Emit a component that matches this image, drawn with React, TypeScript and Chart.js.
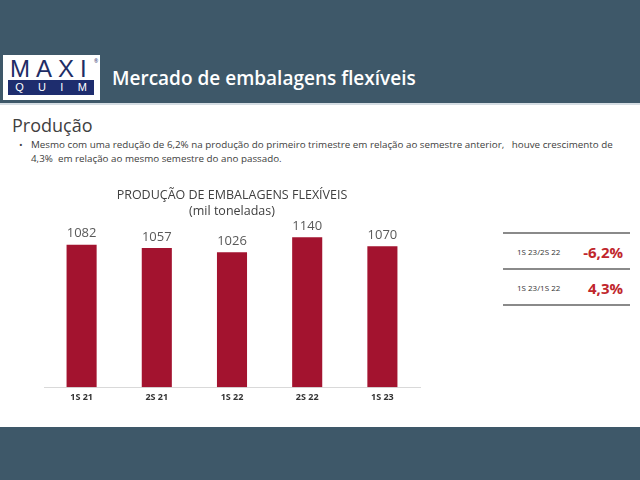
import React, { useEffect, useRef } from "react";
import { Chart, registerables } from "chart.js";

Chart.register(...registerables);

const categories = ["1S 21", "2S 21", "1S 22", "2S 22", "1S 23"];
const production = [1082, 1057, 1026, 1140, 1070];
const chartTitle = ["PRODUÇÃO DE EMBALAGENS FLEXÍVEIS", "(mil toneladas)"];
const compareLabels = ["1S 23/2S 22", "1S 23/1S 22"];
const compareValues = ["-6,2%", "4,3%"];

const BAR = "#a3132f";
const SLATE = "#3e5869";
const FONT = "'Open Sans', Lato, sans-serif";

const valueLabels = {
  id: "valueLabels",
  afterDatasetsDraw(chart: any) {
    const ctx = chart.ctx;
    const meta = chart.getDatasetMeta(0);
    const data = chart.data.datasets[0].data;
    ctx.save();
    ctx.fillStyle = "#595959";
    ctx.font = "13px " + FONT;
    ctx.textAlign = "center";
    ctx.textBaseline = "middle";
    meta.data.forEach((bar: any, i: number) => {
      ctx.fillText(String(data[i]), bar.x, bar.y - 11);
    });
    ctx.restore();
  },
};

export default function App() {
  const ref = useRef<HTMLCanvasElement>(null);
  useEffect(() => {
    if (!ref.current) return;
    const chart = new Chart(ref.current, {
      type: "bar",
      data: {
        labels: categories,
        datasets: [
          {
            data: production,
            backgroundColor: BAR,
            barPercentage: 0.4,
            categoryPercentage: 1,
          },
        ],
      },
      options: {
        animation: false,
        responsive: false,
        maintainAspectRatio: false,
        layout: { padding: { left: 24, right: 24, bottom: 4, top: 0 } },
        plugins: {
          legend: { display: false },
          tooltip: { enabled: false },
          title: {
            display: true,
            text: chartTitle,
            color: "#404040",
            font: { family: FONT, size: 12.5, weight: "normal", lineHeight: 1.25 },
            padding: { top: 8, bottom: 10 },
          },
        },
        scales: {
          x: {
            grid: { display: false, drawTicks: false },
            border: { display: true, color: "#d9d9d9", width: 1 },
            ticks: {
              color: "#333333",
              padding: 5,
              font: { family: FONT, size: 9, weight: "bold", lineHeight: 1.2 },
            },
          },
          y: {
            display: false,
            min: 0,
            max: 1200,
          },
        },
      },
      plugins: [valueLabels],
    });
    return () => chart.destroy();
  }, []);

  return (
    <div
      style={{
        position: "fixed",
        left: 0,
        top: 0,
        width: 640,
        height: 480,
        background: "#ffffff",
        fontFamily: FONT,
        overflow: "hidden",
      }}
    >
      <div style={{ position: "absolute", left: 0, top: 0, width: 640, height: 103, background: SLATE }} />
      <div style={{ position: "absolute", left: 0, top: 103, width: 640, height: 2, background: "#d5dde3" }} />
      <div style={{ position: "absolute", left: 0, top: 427, width: 640, height: 53, background: SLATE }} />

      {/* logo */}
      <div style={{ position: "absolute", left: 3, top: 55, width: 97, height: 45, background: "#ffffff" }}>
        <div
          style={{
            position: "absolute",
            left: 7,
            top: 2,
            fontFamily: "'Liberation Sans', Arial, sans-serif",
            fontSize: 24,
            lineHeight: "24px",
            letterSpacing: 6,
            color: "#1e2d66",
          }}
        >
          MAXI
        </div>
        <div style={{ position: "absolute", left: 91, top: 3, fontSize: 5, color: "#1e2d66" }}>®</div>
        <div
          style={{
            position: "absolute",
            left: 5,
            top: 25,
            width: 86,
            height: 15,
            background: "#1e2d6e",
            color: "#ffffff",
            fontFamily: "'Liberation Sans', Arial, sans-serif",
            fontSize: 11,
            lineHeight: "15px",
            display: "flex",
            justifyContent: "space-around",
          }}
        >
          <span>Q</span>
          <span>U</span>
          <span>I</span>
          <span>M</span>
        </div>
      </div>

      <div
        style={{
          position: "absolute",
          left: 112,
          top: 64,
          fontSize: 19,
          lineHeight: "28px",
          fontWeight: 600,
          color: "#ffffff",
          whiteSpace: "nowrap",
        }}
      >
        Mercado de embalagens flexíveis
      </div>

      <div
        style={{
          position: "absolute",
          left: 12,
          top: 112,
          fontSize: 18,
          lineHeight: "26px",
          color: "#404040",
          whiteSpace: "nowrap",
        }}
      >
        Produção
      </div>

      <div style={{ position: "absolute", left: 19, top: 138, fontSize: 9.8, lineHeight: "14px", color: "#404040" }}>•</div>
      <div
        style={{
          position: "absolute",
          left: 31,
          top: 138,
          fontSize: 9.8,
          lineHeight: "14px",
          color: "#404040",
          whiteSpace: "pre",
        }}
      >
        {"Mesmo com uma redução de 6,2% na produção do primeiro trimestre em relação ao semestre anterior,   houve crescimento de\n4,3%  em relação ao mesmo semestre do ano passado."}
      </div>

      <canvas
        ref={ref}
        width={424}
        height={232}
        style={{ position: "absolute", left: 20, top: 180, width: 424, height: 232 }}
      />

      {/* comparison table */}
      <div style={{ position: "absolute", left: 503, top: 232, width: 127, height: 2, background: "#8a8a8a" }} />
      <div style={{ position: "absolute", left: 503, top: 268, width: 127, height: 2, background: "#8a8a8a" }} />
      <div style={{ position: "absolute", left: 503, top: 304, width: 127, height: 2, background: "#8a8a8a" }} />
      {compareLabels.map((lab, i) => (
        <React.Fragment key={lab}>
          <div
            style={{
              position: "absolute",
              left: 517,
              top: 246 + i * 36,
              fontSize: 8,
              lineHeight: "12px",
              color: "#333333",
              whiteSpace: "nowrap",
            }}
          >
            {lab}
          </div>
          <div
            style={{
              position: "absolute",
              right: 17,
              top: 242 + i * 36,
              fontSize: 15,
              lineHeight: "20px",
              fontWeight: 700,
              color: "#c0262c",
              whiteSpace: "nowrap",
            }}
          >
            {compareValues[i]}
          </div>
        </React.Fragment>
      ))}
    </div>
  );
}
